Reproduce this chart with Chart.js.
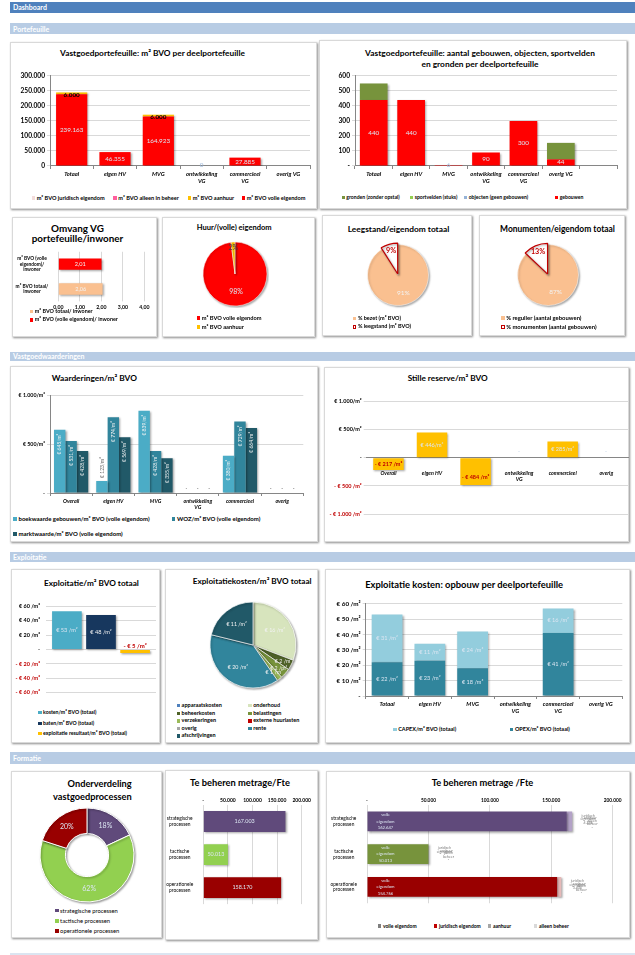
<!DOCTYPE html>
<html>
<head>
<meta charset="utf-8">
<script src="https://cdn.jsdelivr.net/npm/chart.js@4.4.1/dist/chart.umd.min.js"></script>
<style>
  body { margin: 0; background: #fff; font-family: Lato, "Open Sans", sans-serif; }
  #page { position: relative; width: 635px; height: 955px; overflow: hidden; }
  .band { position: absolute; left: 10px; right: 0; color: #fff; font-weight: bold; font-size: 7px; padding-left: 3px; box-sizing: border-box; display: flex; align-items: center; }
  .panel { position: absolute; background: #fff; border: 1px solid #d9d9d9; box-shadow: 1px 1px 2px rgba(0,0,0,.45); box-sizing: border-box; }
  canvas { position: absolute; }
  .t { position: absolute; font-weight: bold; white-space: nowrap; color: #000; }
  .lg { position: absolute; white-space: nowrap; font-weight: bold; line-height: 1; display: flex; align-items: center; color: #000; }
  .lg i { display: inline-block; margin-right: 1.5px; box-sizing: border-box; }
</style>
</head>
<body>
<div id="page"></div>
<script>
// ---------- data ----------
const portefeuilleCats = ["Totaal", "eigen HV", "MVG", ["ontwikkeling", "VG"], ["commercieel", "VG"], "overig VG"];
const bvoVolleEigendom = [239163, 46355, 164923, 0, 27885, null];
const bvoAanhuur = [6000, 0, 6000, 0, 0, null];
const bvoAlleenBeheer = [0, 0, 0, 0, 0, null];
const bvoJuridisch = [0, 0, 0, 0, 0, null];

const aantalCats = ["Totaal", "eigen HV", "MVG", ["ontwikkeling", "VG"], ["commercieel", "VG"], "overig VG", ""];
const aantalGebouwen = [440, 440, 6, 90, 300, 44, null];
const aantalObjecten = [0, 0, 0, 0, 0, 0, null];
const aantalSportvelden = [0, 0, 0, 0, 0, 0, null];
const aantalGronden = [110, 0, 0, 0, 0, 110, null];

const inwonerCats = [["m² BVO (volle", "eigendom)/", "inwoner"], ["m² BVO totaal/", "inwoner"]];
const bvoPerInwoner = [2.01, 2.06];

const huurLabels = ["m² BVO volle eigendom", "m² BVO aanhuur"];
const huurShares = [98, 2];
const leegstandLabels = ["% bezet (m² BVO)", "% leegstand (m² BVO)"];
const leegstandShares = [91, 9];
const monumentLabels = ["% regulier (aantal gebouwen)", "% monumenten (aantal gebouwen)"];
const monumentShares = [87, 13];

const waardCats = ["Overall", "eigen HV", "MVG", ["ontwikkeling", "VG"], "commercieel", "overig"];
const boekwaarde = [645, 123, 839, 0, 380, 0];
const wozWaarde = [531, 774, 428, 0, 729, 0];
const marktwaarde = [428, 569, 355, 0, 664, 0];
const stilleReserve = [-217, 446, -484, 0, 285, 0];

const kostenM2 = [53];
const batenM2 = [48];
const resultaatM2 = [-5];

const kostenSoorten = ["apparaatskosten", "onderhoud", "beheerkosten", "belastingen", "verzekeringen", "externe huurlasten", "overig", "rente", "afschrijvingen"];
const kostenPerM2 = [0, 16, 2, 2, 1, 0, 0, 20, 11];

const opbouwCats = ["Totaal", "eigen HV", "MVG", ["ontwikkeling", "VG"], ["commercieel", "VG"], "overig VG"];
const opexM2 = [22, 23, 18, 0, 41, 0];
const capexM2 = [31, 11, 24, 0, 16, 0];

const processen = ["strategische processen", "tactische processen", "operationele processen"];
const procesAandeel = [18, 62, 20];
const procesCats = [["strategische", "processen"], ["tactische", "processen"], ["operationele", "processen"]];
const metragePerFte = [167003, 50013, 158170];
const fteVolle = [162647, 50013, 154766];
const fteJuridisch = [4356, 0, 3404];
const fteAanhuur = [0, 0, 0];
const fteBeheer = [0, 0, 0];

// ---------- helpers ----------
const FONT = "Lato, 'Open Sans', sans-serif";
const gridGrey = "#d9d9d9";
const axisGrey = "#868686";
const labelBlue = "#dce6f2";
const negRed = "#c00000";
const page = document.getElementById("page");

Chart.defaults.font.family = FONT;
Chart.defaults.font.weight = "bold";
Chart.defaults.font.size = 6;
Chart.defaults.color = "#000";
Chart.defaults.animation = false;
Chart.defaults.responsive = false;
Chart.defaults.events = [];
Chart.defaults.plugins.legend.display = false;
Chart.defaults.plugins.tooltip.enabled = false;

const fmt = v => Math.round(v).toString().replace(/\B(?=(\d{3})+(?!\d))/g, ".");
const font = (size, weight, style) => `${style || "normal"} ${weight || "normal"} ${size}px ${FONT}`;
const euro = v => v > 0 ? `€ ${fmt(v)} /m²` : v < 0 ? `- € ${fmt(-v)} /m²` : "-";

function band(text, top, height, bg) {
  const d = document.createElement("div");
  d.className = "band";
  d.style.top = top + "px";
  d.style.height = height + "px";
  d.style.background = bg;
  d.textContent = text;
  page.appendChild(d);
}

function panel(l, t, r, b) {
  const d = document.createElement("div");
  d.className = "panel";
  Object.assign(d.style, {left: l + "px", top: t + "px", width: (r - l) + "px", height: (b - t) + "px"});
  page.appendChild(d);
}

// title lines, fitted so the widest line spans left..right
function title(lines, left, right, cy, gap, align) {
  const d = document.createElement("div");
  d.className = "t";
  d.style.fontSize = "10px";
  d.innerHTML = lines.map(s => `<div><span>${s}</span></div>`).join("");
  page.appendChild(d);
  const w = Math.max(...[...d.querySelectorAll("span")].map(s => s.getBoundingClientRect().width));
  const size = 10 * (right - left) / w;
  const g = gap || size * 1.3;
  Object.assign(d.style, {
    fontSize: size + "px", lineHeight: g + "px", textAlign: align || "center",
    width: (right - left) + "px", left: left + "px", top: (cy - g / 2) + "px",
  });
}

// legend entries: [x, y, text, fill, border]
function legend(items, size, weight) {
  items.forEach(([x, y, text, fill, border]) => {
    const d = document.createElement("div");
    d.className = "lg";
    d.style.fontSize = size + "px";
    if (weight) d.style.fontWeight = weight;
    d.style.left = x + "px";
    d.style.top = (y - size / 2) + "px";
    d.style.height = size + "px";
    const sq = size * 0.62;
    d.innerHTML = `<i style="width:${sq}px;height:${sq}px;background:${fill};${border ? "border:1px solid " + border : ""}"></i>${text}`;
    page.appendChild(d);
  });
}

function chart(x, y, w, h, config) {
  const c = document.createElement("canvas");
  Object.assign(c.style, {left: x + "px", top: y + "px", width: w + "px", height: h + "px"});
  c.width = w;
  c.height = h;
  page.appendChild(c);
  return new Chart(c, config);
}

const shadow = {
  id: "shadow",
  beforeDatasetsDraw(chart) {
    const c = chart.ctx;
    c.save();
    c.shadowColor = "rgba(0,0,0,0.35)";
    c.shadowBlur = 2;
    c.shadowOffsetX = 1.2;
    c.shadowOffsetY = 1.2;
  },
  afterDatasetsDraw(chart) {
    chart.ctx.restore();
  },
};

function labels(draw) {
  return {
    id: "labels",
    afterDatasetsDraw(chart) {
      const ctx = chart.ctx;
      ctx.save();
      ctx.textAlign = "center";
      ctx.textBaseline = "middle";
      draw(chart, ctx);
      ctx.restore();
    },
  };
}

function arcLabel(ctx, arc, f, text) {
  const mid = (arc.startAngle + arc.endAngle) / 2;
  ctx.fillText(text, arc.x + Math.cos(mid) * arc.outerRadius * f, arc.y + Math.sin(mid) * arc.outerRadius * f);
}

function catAxis(size, height) {
  return {
    grid: {display: true, drawOnChartArea: false, offset: true, tickLength: 3, color: axisGrey},
    border: {color: axisGrey},
    ticks: {font: {size, style: "italic", weight: "bold"}, maxRotation: 0, autoSkip: false, padding: 2},
    afterFit: s => { s.height = height; },
  };
}

function topValueAxis(size) {
  return {
    position: "top", min: 0, max: 200000,
    ticks: {stepSize: 50000, callback: v => v ? fmt(v) : "-", font: {size}, padding: 2, maxRotation: 0, minRotation: 0, autoSkip: false},
    grid: {color: gridGrey, tickLength: 0},
    border: {display: false},
    afterFit: s => { s.height = 9; },
  };
}

// ---------- frame ----------
band("Dashboard", 2, 10.5, "#4f81bd");
band("Portefeuille", 23.3, 11, "#b8cce4");
band("Vastgoedwaarderingen", 351.7, 9.6, "#b8cce4");
band("Exploitatie", 551.7, 10, "#b8cce4");
band("Formatie", 752.3, 11.5, "#b8cce4");
band("", 952.5, 2.5, "#dbe5f1");

panel(10, 41.5, 317, 209);
panel(319, 40, 627, 208.5);
panel(11.5, 216.5, 157, 337);
panel(161.5, 216.5, 315, 337);
panel(322, 215, 472, 336);
panel(479, 215, 625, 336);
panel(10, 365.5, 318, 542);
panel(324, 366.5, 629, 542);
panel(10.5, 569, 160, 743);
panel(165, 569, 317.5, 743);
panel(325, 569, 630, 743);
panel(11, 771, 161.5, 938);
panel(165, 770, 318, 940);
panel(325.5, 771, 630, 938);

// ---------- Portefeuille ----------
title(["Vastgoedportefeuille: m² BVO per deelportefeuille"], 60, 245, 53.3);
chart(10, 70, 306, 120, {
  type: "bar",
  data: {
    labels: portefeuilleCats,
    datasets: [
      {label: "m² BVO volle eigendom", data: bvoVolleEigendom, backgroundColor: "#ff0000"},
      {label: "m² BVO aanhuur", data: bvoAanhuur, backgroundColor: "#ffc000"},
      {label: "m² BVO alleen in beheer", data: bvoAlleenBeheer, backgroundColor: "#ff5f9e"},
      {label: "m² BVO juridisch eigendom", data: bvoJuridisch, backgroundColor: "#f2dcdb"},
    ],
  },
  options: {
    layout: {padding: {top: 5, right: 6}},
    datasets: {bar: {barPercentage: 0.72, categoryPercentage: 1}},
    scales: {
      x: {stacked: true, ...catAxis(5.8, 24)},
      y: {
        stacked: true, min: 0, max: 300000,
        ticks: {stepSize: 50000, callback: v => fmt(v), font: {size: 6.6}, padding: 2},
        grid: {color: gridGrey, tickLength: 3},
        border: {color: axisGrey},
        afterFit: s => { s.width = 40; },
      },
    },
  },
  plugins: [shadow, labels((chart, ctx) => {
    chart.getDatasetMeta(0).data.forEach((bar, i) => {
      const v = bvoVolleEigendom[i];
      if (v == null) return;
      ctx.font = font(6.3);
      ctx.fillStyle = v ? labelBlue : "#95b3d7";
      ctx.fillText(fmt(v), bar.x, v ? (bar.y + bar.base) / 2 : bar.y - 1);
    });
    chart.getDatasetMeta(1).data.forEach((bar, i) => {
      if (!bvoAanhuur[i]) return;
      ctx.font = font(6.3, "bold");
      ctx.fillStyle = "#000";
      ctx.fillText(fmt(bvoAanhuur[i]), bar.x, (bar.y + bar.base) / 2 + 1.5);
    });
  })],
});
legend([
  [31.7, 198, "m² BVO juridisch eigendom", "#f2dcdb"],
  [113.3, 198, "m² BVO alleen in beheer", "#ff5f9e"],
  [187.7, 198, "m² BVO aanhuur", "#ffc000"],
  [241.7, 198, "m² BVO volle eigendom", "#ff0000"],
], 5.6);

title(["Vastgoedportefeuille: aantal gebouwen, objecten, sportvelden", "en gronden per deelportefeuille"], 365, 595, 53.3, 11);
chart(319, 70, 307, 120, {
  type: "bar",
  data: {
    labels: aantalCats,
    datasets: [
      {label: "gebouwen", data: aantalGebouwen, backgroundColor: "#ff0000"},
      {label: "objecten (geen gebouwen)", data: aantalObjecten, backgroundColor: "#95b3d7"},
      {label: "sportvelden (stuks)", data: aantalSportvelden, backgroundColor: "#92d050"},
      {label: "gronden (zonder opstal)", data: aantalGronden, backgroundColor: "#77933c"},
    ],
  },
  options: {
    layout: {padding: {top: 5, right: 9}},
    datasets: {bar: {barPercentage: 0.74, categoryPercentage: 1}},
    scales: {
      x: {stacked: true, ...catAxis(5.8, 24)},
      y: {
        stacked: true, min: 0, max: 600,
        ticks: {stepSize: 100, callback: v => v ? v : "-", font: {size: 6.6}, padding: 2},
        grid: {color: gridGrey, tickLength: 3},
        border: {color: axisGrey},
        afterFit: s => { s.width = 36; },
      },
    },
  },
  plugins: [shadow, labels((chart, ctx) => {
    chart.getDatasetMeta(0).data.forEach((bar, i) => {
      if (!aantalGebouwen[i]) return;
      ctx.font = font(6.3);
      ctx.fillStyle = aantalGebouwen[i] > 20 ? labelBlue : "#95b3d7";
      ctx.fillText(aantalGebouwen[i], bar.x, aantalGebouwen[i] > 20 ? (bar.y + bar.base) / 2 : bar.base - 1);
    });
  })],
});
legend([
  [341.7, 197.7, "gronden (zonder opstal)", "#77933c"],
  [410, 197.7, "sportvelden (stuks)", "#92d050"],
  [464, 197.7, "objecten (geen gebouwen)", "#95b3d7"],
  [555, 197.7, "gebouwen", "#ff0000"],
], 5.1);

title(["Omvang VG", "portefeuille/inwoner"], 31.7, 123.3, 228.3, 10);
chart(12, 244, 145, 68, {
  type: "bar",
  data: {
    labels: inwonerCats,
    datasets: [{data: bvoPerInwoner, backgroundColor: ["#ff0000", "#fac090"], barPercentage: 0.46, categoryPercentage: 1}],
  },
  options: {
    indexAxis: "y",
    layout: {padding: {top: 4, right: 12.7}},
    scales: {
      x: {
        min: 0, max: 4,
        ticks: {stepSize: 1, callback: v => v.toFixed(2).replace(".", ","), font: {size: 5.2}, padding: 3, maxRotation: 0, autoSkip: false},
        grid: {color: gridGrey, tickLength: 0},
        border: {display: false},
        afterFit: s => { s.height = 10; },
      },
      y: {
        grid: {display: false},
        border: {display: false},
        ticks: {font: {size: 4.8}, crossAlign: "center", padding: 2},
        afterFit: s => { s.width = 46.3; },
      },
    },
  },
  plugins: [shadow, labels((chart, ctx) => {
    chart.getDatasetMeta(0).data.forEach((bar, i) => {
      ctx.font = font(5.6);
      ctx.fillStyle = "#f2f2f2";
      ctx.fillText(bvoPerInwoner[i].toFixed(2).replace(".", ","), (bar.x + bar.base) / 2, bar.y);
    });
  })],
});
legend([
  [30, 311.7, "m² BVO totaal/ inwoner", "#fac090"],
  [30, 320, "m² BVO (volle eigendom)/ inwoner", "#ff0000"],
], 5.4);

title(["Huur/(volle) eigendom"], 196.7, 271.7, 228.3);
chart(201, 239.5, 68, 68, {
  type: "pie",
  data: {labels: huurLabels, datasets: [{data: huurShares, backgroundColor: ["#ff0000", "#ffc000"], borderColor: "#fff", borderWidth: 0.5}]},
  options: {radius: 32},
  plugins: [shadow, labels((chart, ctx) => {
    const arcs = chart.getDatasetMeta(0).data;
    ctx.font = font(7);
    ctx.fillStyle = labelBlue;
    arcLabel(ctx, arcs[0], 0.55, huurShares[0] + "%");
    ctx.fillStyle = "#404040";
    arcLabel(ctx, arcs[1], 0.82, huurShares[1] + "%");
  })],
});
legend([
  [196.7, 318, huurLabels[0], "#ff0000"],
  [196.7, 327, huurLabels[1], "#ffc000"],
], 5.7);

function explodedPie(x, y, names, shares, r) {
  chart(x - 36, y - 36, 72, 72, {
    type: "pie",
    data: {
      labels: names,
      datasets: [{
        data: shares,
        backgroundColor: ["#fac090", "#ffffff"],
        borderColor: ["#ffffff", negRed],
        borderWidth: [0.5, 1.2],
        offset: [0, 4],
      }],
    },
    options: {radius: r},
    plugins: [shadow, labels((chart, ctx) => {
      const arcs = chart.getDatasetMeta(0).data;
      ctx.font = font(6.5);
      ctx.fillStyle = "#f2f2f2";
      arcLabel(ctx, arcs[0], 0.62, shares[0] + "%");
      ctx.font = font(7.2, "bold");
      ctx.fillStyle = negRed;
      arcLabel(ctx, arcs[1], 0.82, shares[1] + "%");
    })],
  });
}

title(["Leegstand/eigendom totaal"], 347.7, 449.3, 229);
explodedPie(397.5, 274.5, leegstandLabels, leegstandShares, 30.5);
legend([
  [353, 318.3, leegstandLabels[0], "#fac090"],
  [353, 327, leegstandLabels[1], "#fff", negRed],
], 5.5);

title(["Monumenten/eigendom totaal"], 500, 615, 229);
explodedPie(547.5, 275, monumentLabels, monumentShares, 30.5);
legend([
  [501, 318.3, monumentLabels[0], "#fac090"],
  [501, 327, monumentLabels[1], "#fff", negRed],
], 5.9);

// ---------- Vastgoedwaarderingen ----------
title(["Waarderingen/m² BVO"], 51.7, 137, 378.3);
chart(10, 389, 308, 126, {
  type: "bar",
  data: {
    labels: waardCats,
    datasets: [
      {label: "boekwaarde gebouwen/m² BVO (volle eigendom)", data: boekwaarde, backgroundColor: "#4bacc6"},
      {label: "WOZ/m² BVO (volle eigendom)", data: wozWaarde, backgroundColor: "#31859c"},
      {label: "marktwaarde/m² BVO (volle eigendom)", data: marktwaarde, backgroundColor: "#215968"},
    ],
  },
  options: {
    layout: {padding: {top: 6, right: 14.7}},
    datasets: {bar: {barPercentage: 1, categoryPercentage: 0.81}},
    scales: {
      x: catAxis(5.3, 22),
      y: {
        min: 0, max: 1000,
        ticks: {stepSize: 500, callback: v => v ? `€ ${fmt(v)}/m²` : "-", font: {size: 5.3}, padding: 2},
        grid: {color: gridGrey, tickLength: 3},
        border: {color: axisGrey},
        afterFit: s => { s.width = 40; },
      },
    },
  },
  plugins: [shadow, labels((chart, ctx) => {
    chart.data.datasets.forEach((ds, di) => {
      chart.getDatasetMeta(di).data.forEach((bar, i) => {
        const v = ds.data[i];
        ctx.font = font(5);
        if (!v) {
          ctx.fillStyle = "#595959";
          ctx.fillText("-", bar.x, bar.y - 5);
          return;
        }
        const txt = `€ ${fmt(v)}/m²`;
        const tw = ctx.measureText(txt).width;
        const inside = tw + 8 < bar.base - bar.y;
        ctx.save();
        ctx.translate(bar.x, inside ? bar.y + 4 + tw / 2 : bar.y - 3 - tw / 2);
        ctx.rotate(-Math.PI / 2);
        ctx.fillStyle = inside ? "#f2f2f2" : "#595959";
        ctx.fillText(txt, 0, 0);
        ctx.restore();
      });
    });
  })],
});
legend([
  [13.3, 519, "boekwaarde gebouwen/m² BVO (volle eigendom)", "#4bacc6"],
  [171.7, 519, "WOZ/m² BVO (volle eigendom)", "#31859c"],
  [13.3, 534, "marktwaarde/m² BVO (volle eigendom)", "#215968"],
], 6);

title(["Stille reserve/m² BVO"], 407.7, 487.7, 378.3);
chart(324, 396, 305, 124, {
  type: "bar",
  data: {labels: waardCats, datasets: [{label: "stille reserve/m² BVO", data: stilleReserve, backgroundColor: "#ffc000"}]},
  options: {
    layout: {padding: {top: 5, right: 1, bottom: 6}},
    datasets: {bar: {barPercentage: 0.7, categoryPercentage: 1}},
    scales: {
      x: {
        position: {y: 0}, z: 1,
        grid: {display: false},
        border: {color: axisGrey},
        ticks: {font: {size: 5.3, style: "italic", weight: "bold"}, maxRotation: 0, autoSkip: false, padding: 4},
      },
      y: {
        min: -1000, max: 1000,
        ticks: {
          stepSize: 500, font: {size: 5.5}, padding: 2,
          callback: v => v > 0 ? `€ ${fmt(v)}/m²` : euro(v),
          color: c => c.tick && c.tick.value < 0 ? negRed : "#000",
        },
        grid: {color: gridGrey, tickLength: 3},
        border: {display: false},
        afterFit: s => { s.width = 42.7; },
      },
    },
  },
  plugins: [shadow, labels((chart, ctx) => {
    chart.getDatasetMeta(0).data.forEach((bar, i) => {
      const v = stilleReserve[i];
      if (!v) {
        ctx.font = font(4);
        ctx.fillStyle = "#95b3d7";
        ctx.fillText("..", bar.x, bar.y - 7);
        return;
      }
      ctx.font = font(5.5, v < 0 ? "bold" : "normal");
      ctx.fillStyle = v > 0 ? labelBlue : negRed;
      const txt = v > 0 ? `€ ${fmt(v)}/m²` : euro(v);
      ctx.fillText(txt, bar.x, (bar.y + bar.base) / 2 + (v < -300 ? 6 : 0));
    });
  })],
});

// ---------- Exploitatie ----------
title(["Exploitatie/m² BVO totaal"], 44, 139, 583.3);
chart(11, 597, 149, 105, {
  type: "bar",
  data: {
    labels: [""],
    datasets: [
      {label: "kosten/m² BVO (totaal)", data: kostenM2, backgroundColor: "#4bacc6"},
      {label: "baten/m² BVO (totaal)", data: batenM2, backgroundColor: "#17375e"},
      {label: "exploitatie resultaat/m² BVO (totaal)", data: resultaatM2, backgroundColor: "#ffc000"},
    ],
  },
  options: {
    layout: {padding: {top: 5.3, right: 4, bottom: 3.7}},
    datasets: {bar: {barPercentage: 0.87, categoryPercentage: 0.93}},
    scales: {
      x: {display: false},
      y: {
        min: -60, max: 60,
        ticks: {
          stepSize: 20, font: {size: 5.5}, padding: 6, callback: euro,
          color: c => c.tick && c.tick.value < 0 ? negRed : "#000",
        },
        grid: {color: gridGrey, tickLength: 0},
        border: {display: false},
        afterFit: s => { s.width = 35; },
      },
    },
  },
  plugins: [shadow, labels((chart, ctx) => {
    [kostenM2, batenM2, resultaatM2].forEach((vals, di) => {
      const bar = chart.getDatasetMeta(di).data[0];
      const v = vals[0];
      if (v > 0) {
        ctx.font = font(5.6);
        ctx.fillStyle = di ? "#f2f2f2" : labelBlue;
        ctx.fillText(euro(v), bar.x, (bar.y + bar.base) / 2);
      } else {
        ctx.font = font(6, "bold");
        ctx.fillStyle = negRed;
        ctx.fillText(euro(v), bar.x, Math.min(bar.y, bar.base) - 4);
      }
    });
  })],
});
legend([
  [38.3, 712.7, "kosten/m² BVO (totaal)", "#4bacc6"],
  [38.3, 723.3, "baten/m² BVO (totaal)", "#17375e"],
  [38.3, 733.3, "exploitatie resultaat/m² BVO (totaal)", "#ffc000"],
], 5.2);

const kostenKleuren = ["#4f81bd", "#d7e4bd", "#4f6228", "#77933c", "#9bbb59", "#c00000", "#a6a6a6", "#31859c", "#215968"];
title(["Exploitatiekosten/m² BVO totaal"], 192.7, 311.7, 581.7);
chart(207, 599, 92, 92, {
  type: "pie",
  data: {labels: kostenSoorten, datasets: [{data: kostenPerM2, backgroundColor: kostenKleuren, borderColor: "#fff", borderWidth: 0.7}]},
  options: {radius: 43},
  plugins: [shadow, labels((chart, ctx) => {
    chart.getDatasetMeta(0).data.forEach((arc, i) => {
      const v = kostenPerM2[i];
      if (!v) return;
      ctx.font = font(5.3);
      ctx.fillStyle = "#f2f2f2";
      arcLabel(ctx, arc, v < 5 ? 0.8 : 0.62, `€ ${v} /m²`);
    });
  })],
});
legend(kostenSoorten.map((s, i) => [i % 2 ? 248.3 : 176.7, [705.7, 713.3, 721, 728.7, 736][Math.floor(i / 2)], s, kostenKleuren[i]]), 5.5);

title(["Exploitatie kosten: opbouw per deelportefeuille"], 365, 563.3, 585);
chart(325, 598, 305, 120, {
  type: "bar",
  data: {
    labels: opbouwCats,
    datasets: [
      {label: "OPEX/m² BVO (totaal)", data: opexM2, backgroundColor: "#31859c"},
      {label: "CAPEX/m² BVO (totaal)", data: capexM2, backgroundColor: "#93cddd"},
    ],
  },
  options: {
    layout: {padding: {top: 4.7, right: 7.7}},
    datasets: {bar: {barPercentage: 0.72, categoryPercentage: 1}},
    scales: {
      x: {stacked: true, ...catAxis(5.8, 22)},
      y: {
        stacked: true, min: 0, max: 60,
        ticks: {stepSize: 10, callback: euro, font: {size: 6.3}, padding: 2},
        grid: {color: gridGrey, tickLength: 3},
        border: {color: axisGrey},
        afterFit: s => { s.width = 40.7; },
      },
    },
  },
  plugins: [shadow, labels((chart, ctx) => {
    [opexM2, capexM2].forEach((vals, di) => {
      chart.getDatasetMeta(di).data.forEach((bar, i) => {
        if (!vals[i]) return;
        ctx.font = font(5.6);
        ctx.fillStyle = labelBlue;
        ctx.fillText(euro(vals[i]), bar.x, (bar.y + bar.base) / 2);
      });
    });
  })],
});
legend([
  [393.3, 729.3, "CAPEX/m² BVO (totaal)", "#93cddd"],
  [510, 729.3, "OPEX/m² BVO (totaal)", "#31859c"],
], 5.5);

// ---------- Formatie ----------
const procesKleuren = ["#604a7b", "#92d050", "#990000"];
title(["Onderverdeling", "vastgoedprocessen"], 53, 131.7, 784.3, 12.4, "right");
chart(36.7, 805, 100, 100, {
  type: "doughnut",
  data: {labels: processen, datasets: [{data: procesAandeel, backgroundColor: procesKleuren, borderColor: "#fff", borderWidth: 1}]},
  options: {radius: 47, cutout: "46%"},
  plugins: [shadow, labels((chart, ctx) => {
    chart.getDatasetMeta(0).data.forEach((arc, i) => {
      const mid = (arc.startAngle + arc.endAngle) / 2;
      const r = (arc.innerRadius + arc.outerRadius) / 2;
      ctx.font = font(7);
      ctx.fillStyle = labelBlue;
      ctx.fillText(procesAandeel[i] + "%", arc.x + Math.cos(mid) * r, arc.y + Math.sin(mid) * r);
    });
  })],
});
legend(processen.map((s, i) => [55, [910.7, 921, 931][i], s, procesKleuren[i]]), 5.8, "normal");

title(["Te beheren metrage/Fte"], 190, 290, 782.7);
chart(165, 796, 153, 116, {
  type: "bar",
  data: {labels: procesCats, datasets: [{data: metragePerFte, backgroundColor: ["#604a7b", "#92d050", "#990000"], barPercentage: 0.63, categoryPercentage: 1}]},
  options: {
    indexAxis: "y",
    layout: {padding: {right: 16.3, bottom: 2}},
    scales: {
      x: topValueAxis(5),
      y: {
        grid: {display: false},
        border: {display: false},
        ticks: {font: {size: 4.9, weight: "normal"}, crossAlign: "center", padding: 2},
        afterFit: s => { s.width = 38.3; },
      },
    },
  },
  plugins: [shadow, labels((chart, ctx) => {
    chart.getDatasetMeta(0).data.forEach((bar, i) => {
      ctx.font = font(5.4);
      ctx.fillStyle = labelBlue;
      ctx.fillText(fmt(metragePerFte[i]), (bar.x + bar.base) / 2, bar.y);
    });
  })],
});

title(["Te beheren metrage /Fte"], 431.7, 533.3, 782.7);
const fteLegendKleuren = ["#7f7f7f", "#c00000", "#a6a6a6", "#d9d9d9"];
chart(325.7, 796, 304.3, 115, {
  type: "bar",
  data: {
    labels: procesCats,
    datasets: [
      {label: "volle eigendom", data: fteVolle, backgroundColor: ["#604a7b", "#77933c", "#990000"]},
      {label: "juridisch eigendom", data: fteJuridisch, backgroundColor: ["#b3a2c7", "#c3d69b", "#e6b9b8"]},
      {label: "aanhuur", data: fteAanhuur, backgroundColor: "#a6a6a6"},
      {label: "alleen beheer", data: fteBeheer, backgroundColor: "#d9d9d9"},
    ],
  },
  options: {
    indexAxis: "y",
    layout: {padding: {right: 17.3, bottom: 2}},
    datasets: {bar: {barPercentage: 0.61, categoryPercentage: 1}},
    scales: {
      x: {stacked: true, ...topValueAxis(4.8)},
      y: {
        stacked: true,
        grid: {display: false},
        border: {display: false},
        ticks: {font: {size: 4.8, weight: "normal"}, crossAlign: "center", padding: 2},
        afterFit: s => { s.width = 41; },
      },
    },
  },
  plugins: [shadow, labels((chart, ctx) => {
    const others = [["juridisch eigendom", fteJuridisch], ["aanhuur", fteAanhuur], ["alleen beheer", fteBeheer]];
    chart.getDatasetMeta(0).data.forEach((bar, i) => {
      ctx.font = font(4.2);
      ctx.fillStyle = labelBlue;
      ["volle", "eigendom", fmt(fteVolle[i])].forEach((s, k) => ctx.fillText(s, bar.base + 18, bar.y + (k - 1) * 6.3));
      const end = chart.getDatasetMeta(3).data[i].x;
      ctx.font = font(3.6);
      ctx.fillStyle = "#7f7f7f";
      others.forEach(([name, vals], k) => {
        const words = name.split(" ");
        [...words, vals[i] ? fmt(vals[i]) : "-"].forEach((s, n) => ctx.fillText(s, end + 16 + k * 2, bar.y - 6 + k * 2.5 + n * 3.5));
      });
    });
  })],
});
legend([
  [378.3, 926, "volle eigendom", fteLegendKleuren[0]],
  [434.3, 926, "juridisch eigendom", fteLegendKleuren[1]],
  [488.3, 926, "aanhuur", fteLegendKleuren[2]],
  [534.3, 926, "alleen beheer", fteLegendKleuren[3]],
], 5);
</script>
</body>
</html>
